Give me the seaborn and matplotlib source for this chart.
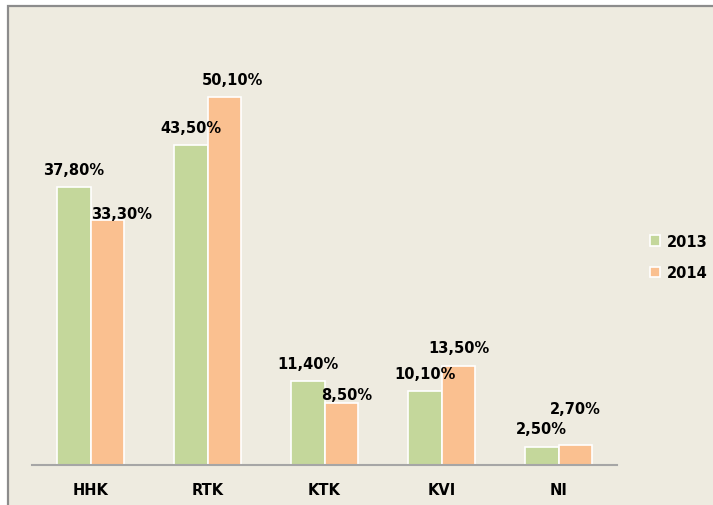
import pandas as pd
import matplotlib
matplotlib.use("Agg")
import matplotlib.pyplot as plt
import seaborn as sns
from matplotlib.patches import Rectangle

categories = ["HHK", "RTK", "KTK", "KVI", "NI"]
vals_2013 = [37.8, 43.5, 11.4, 10.1, 2.5]
vals_2014 = [33.3, 50.1, 8.5, 13.5, 2.7]
years = ["2013", "2014"]

# label nudges (pixels) to mimic the hand-placed labels
off_2013 = [(0, 18), (0, 18), (0, 18), (0, 17), (0, 18)]
off_2014 = [(14, 7), (8, 17), (6, 8), (1, 18), (0, 37)]

df = pd.DataFrame({
    "cat": categories * 2,
    "year": [years[0]] * 5 + [years[1]] * 5,
    "val": vals_2013 + vals_2014,
})

bg = "#EEEBE0"
sns.set_style("white")
plt.rcParams["font.family"] = ["DejaVu Sans"]
plt.rcParams["text.color"] = "black"
plt.rcParams["xtick.color"] = "black"

fig = plt.figure(figsize=(7.13, 5.06), dpi=100, facecolor="white")
fig.add_artist(Rectangle((8 / 713, -0.02), 1.05, 1 - 7 / 506 + 0.02,
                         transform=fig.transFigure, facecolor=bg,
                         edgecolor="#8C8C8C", linewidth=1.6, zorder=0))
ax = fig.add_axes([32 / 713, 40 / 506, 585 / 713, 441 / 506])
ax.set_facecolor("none")

sns.barplot(data=df, x="cat", y="val", hue="year", order=categories,
            palette=["#C4D79B", "#FAC090"], saturation=1, width=0.57, gap=0,
            edgecolor="white", linewidth=1.2, ax=ax)

ax.set_xlim(-0.5, 4.5)
ax.set_ylim(0, 60)
ax.set_xlabel("")
ax.set_ylabel("")
ax.set_yticks([])
for s in ["top", "right", "left"]:
    ax.spines[s].set_visible(False)
ax.spines["bottom"].set_color("#A6A6A6")
ax.spines["bottom"].set_linewidth(1.5)
ax.tick_params(axis="x", length=0, pad=12, colors="black")
for t in ax.get_xticklabels():
    t.set_fontweight("bold")
    t.set_fontsize(10.5)

for cont, vals, offs in zip(ax.containers, [vals_2013, vals_2014], [off_2013, off_2014]):
    for bar, v, (dx, dy) in zip(cont, vals, offs):
        x = bar.get_x() + bar.get_width() / 2
        ax.annotate(f"{v:.2f}%".replace(".", ","), (x, bar.get_height()),
                    xytext=(dx, dy), textcoords="offset pixels",
                    ha="center", va="center", fontsize=10.5, fontweight="bold",
                    color="black")

leg = ax.legend(loc="center left", bbox_to_anchor=(650 / 713, 1 - 258 / 506),
                bbox_transform=fig.transFigure, frameon=False, borderpad=0,
                borderaxespad=0, handlelength=0.7, handleheight=0.7,
                handletextpad=0.45, labelspacing=1.15,
                prop={"weight": "bold", "size": 10.5})

fig.savefig("out.png", dpi=100, facecolor="white")
